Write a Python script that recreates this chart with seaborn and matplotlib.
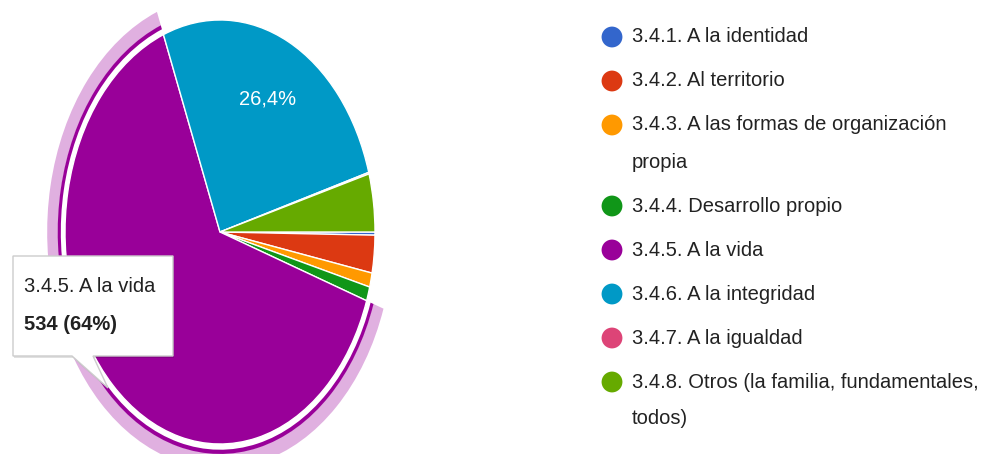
import matplotlib
matplotlib.use("Agg")
import matplotlib.pyplot as plt
from matplotlib import font_manager
from matplotlib.patches import Wedge, Polygon
import seaborn as sns

# Responses per option (legend order)
categories = ["3.4.1. A la identidad",
              "3.4.2. Al territorio",
              "3.4.3. A las formas de organización\npropia",
              "3.4.4. Desarrollo propio",
              "3.4.5. A la vida",
              "3.4.6. A la integridad",
              "3.4.7. A la igualdad",
              "3.4.8. Otros (la familia, fundamentales,\ntodos)"]
counts = [2, 24, 9, 9, 534, 221, 1, 37]
colors = ["#3366cc", "#dc3912", "#ff9900", "#109618",
          "#990099", "#0099c6", "#dd4477", "#66aa00"]
highlight = 4
tooltip_lines = ["3.4.5. A la vida", "534 (64%)"]

sns.set_theme(style="white")
installed = {f.name for f in font_manager.fontManager.ttflist}
if "Liberation Sans Narrow" in installed:
    font, fsize = "Liberation Sans Narrow", 17.5
else:
    font, fsize = "Liberation Sans", 14.5
plt.rcParams["font.family"] = [font, "DejaVu Sans"]

W, H = 995, 454
fig = plt.figure(figsize=(W / 100, H / 100), dpi=100)

# pie is drawn stretched (ellipse), so the axes box is not square
cx, cy, rx, ry = 220, 232, 155, 212
lim = 1.3
pie_ax = fig.add_axes([(cx - lim * rx) / W, (H - cy - lim * ry) / H,
                       2 * lim * rx / W, 2 * lim * ry / H])
wedges, texts, autotexts = pie_ax.pie(
    counts, colors=colors, startangle=0, counterclock=False,
    wedgeprops=dict(edgecolor="white", linewidth=1),
    autopct=lambda p: f"{p:.1f}%".replace(".", ",") if 10 < p < 50 else "",
    pctdistance=0.7, textprops=dict(color="white", fontsize=fsize))
pie_ax.set_aspect("auto")
pie_ax.set_xlim(-lim, lim)
pie_ax.set_ylim(-lim, lim)
pie_ax.axis("off")

# hover ring around the highlighted slice
w = wedges[highlight]
pie_ax.add_patch(Wedge((0, 0), 1.115, w.theta1, w.theta2, width=0.07,
                       facecolor="#e0b0e0", edgecolor="none"))
pie_ax.add_patch(Wedge((0, 0), 1.047, w.theta1, w.theta2, width=0.02,
                       facecolor="#990099", edgecolor="none"))

# overlay in pixel coordinates for tooltip and legend
ax = fig.add_axes([0, 0, 1, 1])
ax.set_xlim(0, W)
ax.set_ylim(H, 0)
ax.axis("off")

box = [(13, 256), (173, 256), (173, 356), (93, 356), (108, 388), (72, 356), (13, 356)]
ax.add_patch(Polygon([(x + 1, y + 2) for x, y in box], closed=True,
                     facecolor="#000000", alpha=0.12, edgecolor="none"))
ax.add_patch(Polygon(box, closed=True, facecolor="white", edgecolor="#cccccc", linewidth=1))
ax.text(24, 287, tooltip_lines[0], va="center", ha="left", fontsize=fsize, color="#222222")
ax.text(24, 325, tooltip_lines[1], va="center", ha="left", fontsize=fsize,
        color="#222222", fontweight="bold")

y = 37
for label, color in zip(categories, colors):
    ax.scatter([612], [y], s=225, color=color, edgecolor="none")
    lines = label.split("\n")
    for k, line in enumerate(lines):
        ax.text(632, y + k * 37, line, va="center", ha="left", fontsize=fsize, color="#222222")
    y += 44 + 37 * (len(lines) - 1)

fig.savefig("out.png", dpi=100)
